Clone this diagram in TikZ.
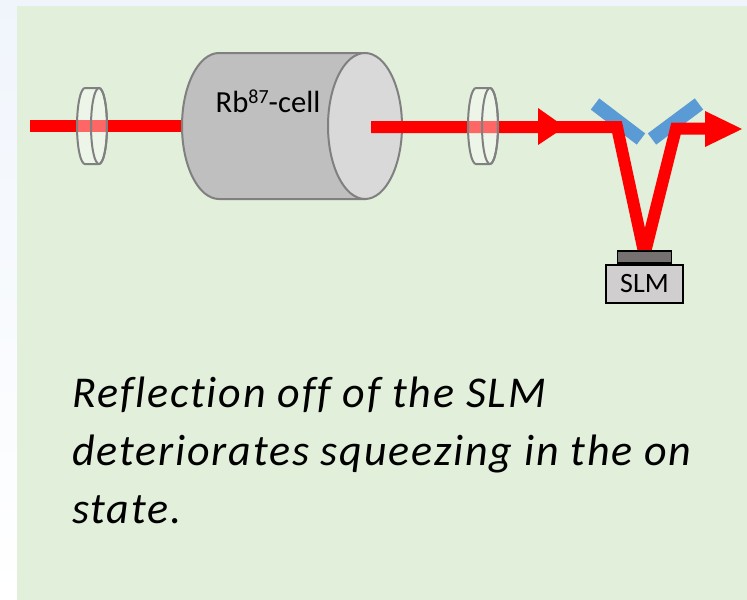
\documentclass[tikz,border=0pt]{standalone}
\usepackage{fontspec}
\setmainfont{Carlito}
\usepackage{tikz}

\begin{document}
\begin{tikzpicture}[x=0.75pt,y=0.75pt,yscale=-1,xscale=1,
  beam/.style={draw={rgb, 255:red, 255; green, 0; blue, 0 }, line width=9pt},
  beamhead/.style={fill={rgb, 255:red, 255; green, 0; blue, 0 }},
  rim/.style={draw={rgb, 255:red, 128; green, 128; blue, 128 }, line width=1.5pt},
  mirror/.style={draw={rgb, 255:red, 91; green, 155; blue, 213 }, line width=10.5pt},
  slmbox/.style={draw=black, line width=1.5pt, fill={rgb, 255:red, 208; green, 206; blue, 206 }, minimum width=57.75pt, minimum height=28.5pt, inner sep=0pt},
  slmtop/.style={draw=black, line width=1.2pt, fill={rgb, 255:red, 118; green, 113; blue, 113 }, minimum width=40.5pt, minimum height=9pt, inner sep=0pt}]
\useasboundingbox (0,0) rectangle (747,600);

%Background
\shade [top color={rgb, 255:red, 240; green, 245; blue, 252 }, bottom color=white] (0,0) rectangle (747,600);
%Shape: Rectangle [id:panel]
\fill [color={rgb, 255:red, 226; green, 239; blue, 218 }] (17,6) rectangle (747,600);

%Shape: Rectangle [id:slm]
\node [slmbox] (slm) at (644.5,284) {\fontsize{21}{21}\selectfont SLM};
\node [slmtop, anchor=south] (slmcap) at (slm.north) {};

%Mirrors
\coordinate (m1a) at (595,104);
\coordinate (m1b) at (641,139);
\coordinate (m2a) at (652,139);
\coordinate (m2b) at (699,104);
\draw [mirror] (m1a) -- (m1b);
\draw [mirror] (m2a) -- (m2b);

%Straight Lines [id:beamin]
\coordinate (src) at (30,125.5);
\coordinate (cellin) at (200,125.5);
\draw [beam] (src) -- (cellin);

%Shape: Can [id:cell]
\draw [rim, fill={rgb, 255:red, 191; green, 191; blue, 191 }] (219,199) arc [start angle=90, end angle=270, x radius=37, y radius=73] -- (365,53) -- (365,199) -- cycle;
\draw [rim, fill={rgb, 255:red, 217; green, 217; blue, 217 }] (365,126) ellipse [x radius=37, y radius=73];
\node [anchor=base, inner sep=0pt] (cell) at (268,112) {\fontsize{23}{23}\selectfont Rb\raisebox{0.55ex}{\fontsize{15}{15}\selectfont 87}-cell};

%Straight Lines [id:beamout]
\coordinate (cellout) at (371,127);
\coordinate (hit1) at (617,127);
\coordinate (hit2) at (676,128.5);
\coordinate (exit) at (712,128.5);
\draw [beam, miter limit=20] (cellout) -- (hit1) -- ([yshift=3pt]slmcap.north);
\draw [beam, miter limit=20] ([yshift=3pt]slmcap.north) -- (hit2) -- (exit);
\node [slmtop, anchor=south] at (slm.north) {};

%Arrow heads
\fill [beamhead] (538,108) -- (565,127) -- (538,145) -- cycle;
\fill [beamhead] (705,111) -- (742,129) -- (705,147) -- cycle;

%Shape: Lens [id:lens1]
\fill [white, fill opacity=0.4] (85,88) -- (99,88) arc [start angle=270, end angle=450, x radius=8, y radius=38] -- (85,164) arc [start angle=90, end angle=270, x radius=8, y radius=38] -- cycle;
\draw [rim] (85,88) -- (99,88) arc [start angle=270, end angle=450, x radius=8, y radius=38] -- (85,164) arc [start angle=90, end angle=270, x radius=8, y radius=38] -- cycle;
\draw [rim] (99,126) ellipse [x radius=8, y radius=38];
%Shape: Lens [id:lens2]
\fill [white, fill opacity=0.4] (476,88) -- (490,88) arc [start angle=270, end angle=450, x radius=8, y radius=38] -- (476,164) arc [start angle=90, end angle=270, x radius=8, y radius=38] -- cycle;
\draw [rim] (476,88) -- (490,88) arc [start angle=270, end angle=450, x radius=8, y radius=38] -- (476,164) arc [start angle=90, end angle=270, x radius=8, y radius=38] -- cycle;
\draw [rim] (490,126) ellipse [x radius=8, y radius=38];

% Text Node
\node [anchor=base west, inner sep=0pt, align=left, font=\itshape\fontsize{33}{43.2}\selectfont\addfontfeatures{LetterSpace=4.2,Ligatures=NoCommon}] (caption) at (72,523) {Reflection off of the SLM\\deteriorates squeezing in the on\\state.};

\end{tikzpicture}
\end{document}
